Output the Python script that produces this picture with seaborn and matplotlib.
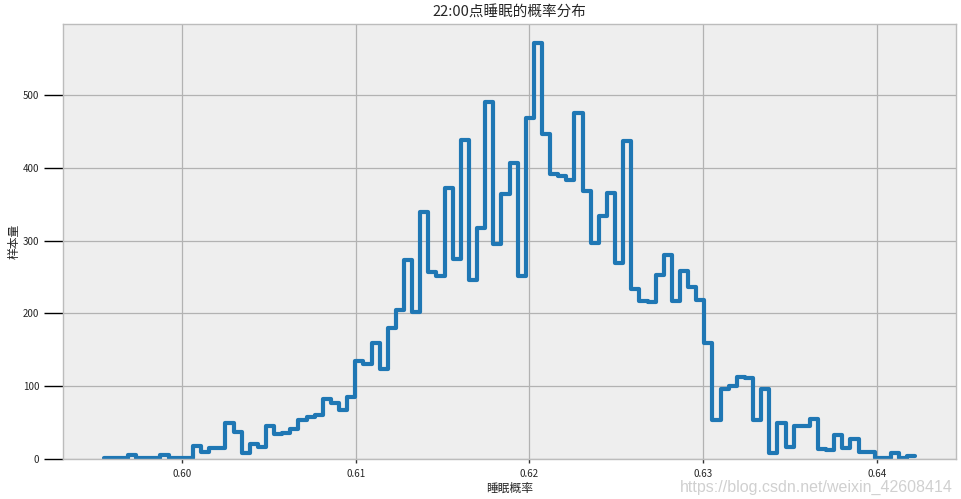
import numpy as np
import pandas as pd
import matplotlib
matplotlib.use("Agg")
import matplotlib.pyplot as plt
import seaborn as sns

# histogram: 100 bins between lo and hi
lo, hi = 0.59547, 0.64223
n_bins = 100
counts = [1, 1, 1, 6, 1, 1, 1, 6, 1, 1,
          1, 18, 10, 15, 15, 50, 37, 8, 21, 16,
          45, 34, 36, 41, 53, 58, 60, 82, 77, 67,
          85, 135, 130, 159, 124, 180, 205, 273, 202, 340,
          257, 251, 372, 275, 438, 246, 318, 491, 296, 364,
          407, 251, 469, 571, 446, 392, 389, 384, 476, 368,
          297, 334, 365, 270, 437, 233, 217, 216, 253, 281,
          217, 258, 236, 218, 160, 54, 96, 100, 113, 111,
          54, 96, 8, 50, 17, 45, 45, 55, 14, 12,
          33, 15, 28, 9, 9, 2, 2, 8, 2, 4]

xticks = [0.60, 0.61, 0.62, 0.63, 0.64]
yticks = [0, 100, 200, 300, 400, 500]

width = (hi - lo) / n_bins
df = pd.DataFrame({"p": lo + width * (np.arange(n_bins) + 0.5), "n": counts})

sns.set_theme(style="whitegrid", rc={
    "axes.facecolor": "#eeeeee",
    "axes.edgecolor": "#bcbcbc",
    "axes.linewidth": 1.0,
    "grid.color": "#b2b2b2",
    "grid.linewidth": 0.9,
})
plt.rcParams["font.family"] = ["Noto Sans CJK SC", "DejaVu Sans"]
plt.rcParams["axes.unicode_minus"] = False

fig, ax = plt.subplots(figsize=(9.61, 4.99), dpi=100)
fig.subplots_adjust(left=0.0656, right=0.9948, top=0.952, bottom=0.0802)

sns.histplot(data=df, x="p", weights="n", bins=n_bins, binrange=(lo, hi),
             element="step", fill=False, color="#1f77b4", linewidth=3, ax=ax)

ax.set_xlim(lo - 0.05 * (hi - lo), hi + 0.05 * (hi - lo))
ax.set_ylim(0, max(counts) * 1.047)
ax.set_xticks(xticks)
ax.set_xticklabels([f"{t:.2f}" for t in xticks])
ax.set_yticks(yticks)
ax.tick_params(axis="y", length=14, width=1, color="black", labelsize=7, pad=3, left=True)
ax.tick_params(axis="x", length=3, width=1, color="#333333", labelsize=7, pad=4, bottom=True)

ax.set_title("22:00点睡眠的概率分布", fontsize=10.5, pad=5)
ax.set_xlabel("睡眠概率", fontsize=8.5, labelpad=2)
ax.set_ylabel("样本量", fontsize=8.5, labelpad=2)

# csdn watermark, bottom right
fig.text(0.991, 0.024, "https://blog.csdn.net/weixin_42608414", ha="right", va="center",
         fontsize=11.5, color="#d0d0d0", family=["Liberation Sans", "DejaVu Sans"])

fig.savefig("out.png", dpi=100)
